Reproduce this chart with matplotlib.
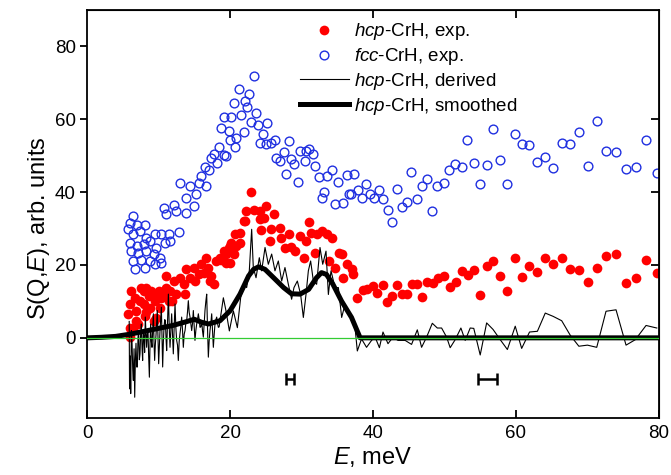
import numpy as np
import matplotlib
matplotlib.use('agg')
import matplotlib.pyplot as plt

plt.rcParams['font.family'] = ['Liberation Sans', 'DejaVu Sans']
plt.rcParams['mathtext.fontset'] = 'custom'
plt.rcParams['mathtext.rm'] = 'Liberation Sans'
plt.rcParams['mathtext.it'] = 'Liberation Sans:italic'

# hcp-CrH, exp. (red filled)
hcp_E = [5.8, 6.0, 6.0, 6.0, 6.2, 6.5, 6.7, 6.9, 6.9, 7.2, 7.4, 7.6, 7.9, 7.9, 8.1, 8.3, 8.3, 8.6, 8.8,
         9.0, 9.3, 9.5, 9.7, 9.8, 10.0, 10.2, 10.4, 10.9, 11.1, 11.1, 11.4, 11.6, 11.9, 12.1, 12.5,
         13.0, 13.5, 13.7, 13.9, 14.4, 14.9, 15.1, 15.6, 16.0, 16.3, 16.7, 16.9, 17.2, 17.4, 17.7,
         18.1, 18.6, 18.8, 19.1, 19.5, 19.5, 19.8, 20.0, 20.0, 20.2, 20.5, 20.7, 20.9, 21.4, 21.4,
         21.9, 22.1, 22.3, 23.0, 23.3, 24.2, 24.2, 24.4, 24.7, 25.1, 25.6, 25.8, 26.1, 27.0, 27.2,
         27.7, 28.2, 28.6, 29.1, 29.8, 30.3, 30.6, 31.0, 31.4, 31.9, 32.1, 32.8, 33.5, 33.8, 34.2,
         34.7, 35.2, 35.6, 35.8, 36.3, 37.0, 37.2, 37.8, 38.6, 39.2, 40.0, 40.6, 41.4, 42.0, 42.6,
         43.3, 44.0, 44.7, 45.5, 46.2, 46.8, 47.6, 48.4, 49.1, 49.9, 50.8, 51.6, 52.4, 53.3, 54.1,
         55.0, 55.9, 56.8, 57.8, 58.8, 59.9, 60.8, 61.8, 62.9, 64.0, 65.2, 66.4, 67.6, 68.8, 70.1,
         71.3, 72.6, 74.0, 75.4, 76.8, 78.2, 79.7]
hcp_S = [6.5, 9.2, 2.8, 0.1, 12.9, 2.8, 11.0, 7.4, 4.6, 3.7, 10.1, 13.8, 12.9, 9.2, 6.0, 13.8, 7.0, 11.5, 8.3,
         12.9, 4.7, 10.1, 5.5, 11.6, 12.9, 8.3, 11.0, 11.9, 17.0, 13.8, 10.1, 12.9, 10.1, 15.6, 11.9,
         16.5, 14.7, 11.9, 18.8, 16.5, 19.2, 15.6, 17.4, 20.2, 17.9, 22.0, 19.2, 15.6, 17.0, 14.7,
         21.1, 22.0, 21.5, 23.8, 20.6, 22.9, 24.7, 25.2, 20.6, 26.1, 22.9, 28.4, 25.2, 28.9, 26.1,
         32.0, 32.2, 34.8, 40.1, 35.0, 34.8, 32.5, 29.5, 33.0, 36.2, 26.6, 29.8, 33.9, 30.2, 27.5,
         24.7, 28.4, 24.9, 23.8, 27.9, 21.8, 26.6, 31.9, 28.8, 23.4, 28.4, 29.3, 28.4, 21.1, 27.5,
         19.3, 23.4, 22.9, 16.5, 20.2, 18.8, 17.4, 11.0, 13.2, 13.4, 14.2, 12.3, 14.5, 9.9, 11.5,
         14.5, 12.0, 12.0, 14.8, 14.8, 11.2, 15.3, 15.1, 16.4, 17.0, 14.0, 15.3, 18.4, 17.3, 18.6,
         11.8, 19.7, 21.1, 17.0, 12.9, 21.9, 16.7, 19.7, 18.1, 21.9, 20.3, 21.9, 18.9, 18.6, 15.3,
         19.2, 22.5, 23.0, 15.1, 16.4, 21.4, 17.8]

# fcc-CrH, exp. (blue open)
fcc_E = [5.8, 6.0, 6.0, 6.2, 6.5, 6.5, 6.5, 6.7, 7.0, 7.0, 7.2, 7.4, 7.6, 7.9, 8.1, 8.1, 8.3, 8.3,
         8.8, 8.8, 9.3, 9.5, 9.5, 9.7, 10.2, 10.4, 10.4, 10.7, 10.9, 11.1, 11.4, 11.6, 12.1, 12.5,
         12.8, 13.0, 13.9, 13.9, 14.4, 14.9, 15.3, 15.6, 16.0, 16.5, 16.7, 17.0, 17.3, 17.8, 18.2,
         18.5, 18.8, 19.1, 19.1, 19.4, 19.8, 20.0,
         20.2, 20.5, 20.7, 20.9, 21.3, 21.5, 21.9, 22.1, 22.4, 22.7, 23.0, 23.3, 23.6, 23.9, 24.2,
         24.6, 25.1, 25.2, 25.8, 26.3, 26.5, 27.0, 27.5, 27.8, 28.2, 28.5, 29.0, 29.5, 29.8, 30.5,
         30.6, 31.0, 31.6, 31.9, 32.4, 32.8, 33.1, 33.6, 34.2, 34.7, 35.1, 35.8, 36.3, 36.7, 36.9,
         37.3, 37.9, 38.4, 39.0, 39.6, 40.1, 40.8, 41.4, 42.1, 42.6, 43.3, 44.0, 44.7, 45.3, 46.1,
         46.8, 47.6, 48.3, 49.0, 49.9, 50.6, 51.5, 52.4, 53.2, 54.1, 55.0, 55.9, 56.8, 57.8, 58.8,
         59.9, 60.8, 61.8, 62.9, 64.0, 65.2, 66.4, 67.6, 68.8, 70.1, 71.3, 72.6, 74.0, 75.4, 76.8,
         78.2, 79.7]
fcc_S = [29.8, 31.6, 26.1, 23.8, 33.4, 28.4, 21.1, 18.8, 31.1, 25.2, 23.3, 29.3, 21.5, 25.7, 31.1, 19.2, 27.5, 23.8,
         26.6, 21.1, 22.9, 28.6, 20.2, 24.7, 21.9, 28.4, 20.6, 35.7, 26.1, 33.9, 28.4, 26.6, 36.6, 34.8,
         29.1, 42.6, 38.4, 34.3, 41.6, 36.2, 39.4, 42.6, 44.5, 47.0, 41.6, 46.0, 49.5, 50.5, 48.0,
         52.5, 57.6, 60.5, 50.3, 50.0, 56.9, 54.2,
         60.6, 64.5, 52.3, 54.9, 68.4, 61.3, 56.5, 65.1, 63.3, 67.0, 59.3, 72.0, 61.7, 58.4, 53.5,
         56.0, 53.1, 59.0, 53.5, 54.4, 49.4, 48.5, 51.0, 45.0, 54.0, 49.2, 47.6, 42.9, 51.2, 48.5,
         51.4, 51.9, 50.5, 47.2, 44.1, 38.5, 40.1, 44.3, 46.2, 36.8, 42.9, 37.1, 44.8, 39.4, 39.5,
         45.0, 40.7, 38.5, 42.3, 39.4, 38.5, 40.7, 38.2, 35.2, 31.9, 40.9, 35.9, 37.4, 45.5, 38.2,
         41.6, 43.7, 34.8, 41.6, 42.5, 46.2, 47.8, 46.8, 54.2, 47.9, 42.2, 47.4, 57.3, 48.8, 42.2,
         55.9, 53.2, 52.9, 48.2, 49.6, 46.6, 53.4, 53.2, 56.4, 47.1, 59.5, 51.2, 51.0, 46.3, 46.8,
         54.2, 45.2]

# hcp-CrH, derived (thin line)
der_E = [5.90, 5.95, 6.05, 6.11, 6.20, 6.29, 6.40, 6.48, 6.58, 6.67, 6.76, 6.85, 6.95, 7.04, 7.13,
         7.22, 7.32, 7.41, 7.50, 7.60, 7.70, 7.78, 7.88, 7.97, 8.06, 8.15, 8.25, 8.34, 8.43, 8.53,
         8.62, 8.72, 8.81, 8.90, 9.00, 9.09, 9.18, 9.28, 9.37, 9.46, 9.55, 9.65, 9.74, 9.83, 9.93,
         10.02, 10.12, 10.21, 10.30, 10.40, 10.49, 10.58, 10.68, 10.77, 10.87, 10.96, 11.05, 11.14,
         11.26, 11.38, 11.50, 11.61, 11.73, 11.84, 11.96, 12.07, 12.19, 12.31, 12.42, 12.54, 12.66,
         12.77, 12.89, 13.00, 13.12, 13.24, 13.36, 13.47, 13.59, 13.71, 13.82, 13.94, 14.05, 14.17,
         14.29, 14.41, 14.52, 14.64, 14.76, 14.87, 14.99, 15.10, 15.22, 15.34, 15.45, 15.57, 15.69,
         15.80, 15.92, 16.04, 16.15, 16.27, 16.39, 16.50, 16.62, 16.74, 16.85, 16.97, 17.08, 17.20,
         17.32, 17.44, 17.55, 17.67, 17.79, 17.90, 18.02, 18.14, 18.25, 18.37, 18.48, 18.60, 18.85,
         19.07, 19.44, 19.91, 20.47, 21.03, 21.49, 21.96, 22.33, 22.70, 23.03, 23.26, 23.64, 24.10,
         24.43, 24.90, 25.36, 25.83, 26.29, 26.76, 27.23, 27.69, 28.16, 28.62, 28.95, 29.42, 29.88,
         30.26, 30.63, 30.96, 31.28, 31.66, 32.12, 32.59, 32.97, 33.43, 33.76, 34.13, 34.69, 35.16,
         35.62, 36.09, 36.55, 37.02, 37.49, 37.81, 38.4, 39.1, 39.8, 40.3, 40.9, 41.4, 42.1, 42.8,
         43.5, 44.5, 45.4, 46.2, 46.8, 47.5, 48.3, 49.0, 49.6, 50.3, 50.8, 51.5, 52.3, 52.9, 53.6,
         54.1, 55.0, 55.9, 56.8, 57.8, 58.8, 59.9, 60.8, 61.9, 63.0, 64.1, 65.2, 66.4, 67.6, 68.8,
         70.0, 71.3, 72.6, 74.0, 75.4, 76.7, 78.2, 79.7]
der_S = [4.5, -14, -5, -15.3, 2, -1, -9, -11.7, -3, -16.3, -6, -1.5, -8, -8, 0,
         2, -6, -4.4, 1, 3.8, -3, -6.2, 2, 0.2, -4, 5.7, 1, -2.6, 1, 2,
         -5, -10.8, -2, 3.8, -1, -2.6, 2, 6.6, -1, -6.2, -2, 0.8, 4, 7.5, 0,
         -7.1, -2, 2, 5, 8.4, 0, -8, -1, 2.9, 5, 4.7, 0, -3.5,
         4, 12, 3, -2.6, 2, 6.6, 1, -4.4, 3, 9.3, 3, -0.7, -2,
         -6.2, -1, 1.1, 3, 5.7, 2, -2.6, 1, 2, 4, 4.7, 7, 10.2,
         7, 5.7, 4, 2, 4, 7.5, 3, -0.7, 2, 3.8, 5, 6.6, 5,
         2.9, 3, 4.7, 2, 0.2, 4, 7.5, 10, 12, 3, -5.3, -1, 2,
         4, 6.6, 2, -2.6, 1, 3.8, 5, 5.7, 4, 2.9, 3, 4.7, 8,
         11.0, 7.4, 1.9, 7.4, 2.8, 11.0, 14.7, 13.8, 18.4, 29.8, 19.3, 16.5, 22.0,
         18.4, 24.8, 20.2, 23.0, 18.4, 21.1, 15.6, 19.3, 14.7, 10.6, 13.8, 15.6, 11.9,
         5.6, 11.9, 18.4, 21.1, 15.6, 14.7, 24.8, 20.2, 23.8, 11.9, 18.4, 13.8, 13.8,
         5.6, 9.2, 7.4, 4.6, 2.8, -3.6, -0.3, -2.6, -0.7, 0.2, -2.7, 1.6, -1.6, 0.2,
         -0.7, -0.7, -1.8, 2.2, -2.6, 0.2, 4.0, 2.7, 2.7, 0.2, -2.7, -0.5, 2.7, -0.7, 2.7,
         2.6, -4.7, 4.1, 2.3, -0.5, -3.2, 3.2, -2.9, 1.6, 1.8, 6.8, 5.9, 4.7, 0.7, -2.3,
         -2.0, -2.6, 7.3, 7.7, -2.0, -0.5, 3.4, 2.7]

# hcp-CrH, smoothed (thick line)
smo_E = [0, 2, 4, 6, 8, 10, 12, 14, 15, 16, 17, 18.6, 20.0, 21.4, 22.6, 23.3, 24.0, 24.9, 26.1,
         27.5, 28.6, 29.8, 31.0, 32.1, 32.8, 33.5, 34.4, 35.6, 37.0, 38.2, 80]
smo_S = [0, 0.15, 0.4, 1.0, 1.8, 2.6, 3.4, 4.5, 5.1, 4.3, 3.8, 4.7, 7.4, 12.0, 17.0, 18.8, 19.5, 18.8,
         16.5, 13.8, 12.1, 12.0, 13.3, 16.5, 17.9, 17.4, 14.7, 10.1, 5.6, 0, 0]

# energy resolution bars
res_E = [28.4, 56.0]
res_S = [-11.2, -11.2]
res_dE = [0.55, 1.3]

fig = plt.figure(figsize=(6.71, 4.75), dpi=100)
ax = fig.add_axes([0.1297, 0.12, 0.8523, 0.859])

ax.plot(hcp_E, hcp_S, 'o', color='#ff0000', markersize=7, markeredgewidth=0,
        label=r'$\it{hcp}$-CrH, exp.', zorder=2)
ax.plot(fcc_E, fcc_S, 'o', mfc='none', mec='#1f2fe0', markersize=6.3, markeredgewidth=1.0,
        label=r'$\it{fcc}$-CrH, exp.', zorder=2)
ax.plot(der_E, der_S, '-', color='black', lw=0.8, label=r'$\it{hcp}$-CrH, derived', zorder=3)
ax.plot(smo_E, smo_S, '-', color='black', lw=3.6, label=r'$\it{hcp}$-CrH, smoothed', zorder=4)
ax.axhline(0, color='#33cc33', lw=0.9, zorder=5)
ax.errorbar(res_E, res_S, xerr=res_dE, fmt='none', ecolor='black', elinewidth=1.8,
            capsize=4.5, capthick=1.8, zorder=3)

ax.set_xlim(0, 80)
ax.set_ylim(-22, 90)
ax.set_xticks([0, 20, 40, 60, 80])
ax.set_yticks([0, 20, 40, 60, 80])
ax.tick_params(axis='x', direction='in', length=6, width=1.3, labelsize=13.5, pad=5)
ax.tick_params(axis='y', direction='out', length=5, width=1.3, labelsize=13.5, pad=3)
for sp in ax.spines.values():
    sp.set_linewidth(1.3)

secx = ax.secondary_xaxis('top')
secx.set_xticks([20, 40, 60])
secx.tick_params(direction='in', length=6, width=1.3, labeltop=False)
secy = ax.secondary_yaxis('right')
secy.set_yticks([20, 40, 60])
secy.tick_params(direction='in', length=6, width=1.3, labelright=False)

ax.set_xlabel(r'$\it{E}$, meV', fontsize=17, labelpad=2)
ax.set_ylabel(r'S(Q,$\it{E}$), arb. units', fontsize=17)
ax.yaxis.set_label_coords(-0.062, 0.466)

ax.legend(loc='upper left', bbox_to_anchor=(0.372, 0.972), frameon=False, fontsize=13.5,
          handlelength=2.6, handletextpad=0.27, labelspacing=0.2, borderpad=0,
          borderaxespad=0, numpoints=1)

fig.savefig('out.png', dpi=100)
